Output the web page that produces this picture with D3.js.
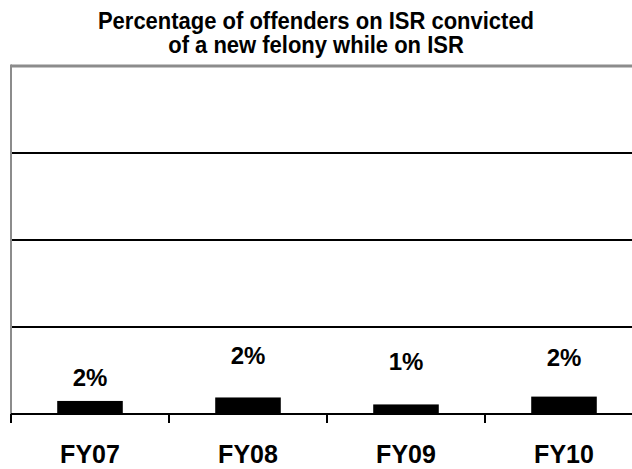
<!DOCTYPE html>
<html>
<head>
<meta charset="utf-8">
<script src="https://cdn.jsdelivr.net/npm/d3@7"></script>
<style>
  body { margin: 0; background: #fff; }
  text { font-family: "Liberation Sans", Arial, sans-serif; font-weight: bold; fill: #000; }
</style>
</head>
<body>
<svg id="chart" width="632" height="469"></svg>
<script>
/** Chart data */
var years = ['FY07', 'FY08', 'FY09', 'FY10'];
var felonyPct = [1.5, 1.9, 1.1, 2.0];
var yTicks = [0, 10, 20, 30, 40];

/** Label lift above each bar (px) - labels were hand placed in the original */
var labelLift = [15, 33, 34, 31];

var plot = { left: 11, top: 66, bottom: 414, right: 643 };

var svg = d3.select('#chart');

// Title (slightly tall glyphs, like the original)
var title = svg.append('g')
    .attr('transform', 'translate(316,0) scale(1,1.1)');
title.append('text')
    .attr('x', 0).attr('y', 26)
    .attr('text-anchor', 'middle')
    .style('font-size', '22px')
    .text('Percentage of offenders on ISR convicted');
title.append('text')
    .attr('x', 0).attr('y', 48.5)
    .attr('text-anchor', 'middle')
    .style('font-size', '22px')
    .text('of a new felony while on ISR');

// Scales
var y = d3.scaleLinear()
    .domain([0, d3.max(yTicks)])
    .range([plot.bottom, plot.top]);

var x = d3.scaleBand()
    .domain(years)
    .range([plot.left, plot.right])
    .padding(0);

var barW = x.bandwidth() * 0.415;

// Gridlines (inner ones black)
svg.append('g').selectAll('line')
    .data(yTicks.slice(1, -1))
    .enter().append('line')
    .attr('x1', plot.left).attr('x2', 632)
    .attr('y1', function(d){ return Math.round(y(d)); })
    .attr('y2', function(d){ return Math.round(y(d)); })
    .attr('stroke', '#000')
    .attr('stroke-width', 2);

// Plot area border (top + left, grey)
svg.append('line')
    .attr('x1', plot.left).attr('x2', 632)
    .attr('y1', y(40)).attr('y2', y(40))
    .attr('stroke', '#8c8c8c').attr('stroke-width', 3);
svg.append('line')
    .attr('x1', plot.left).attr('x2', plot.left)
    .attr('y1', y(40) - 1.5).attr('y2', plot.bottom)
    .attr('stroke', '#8c8c8c').attr('stroke-width', 2);

// Bars
svg.append('g').selectAll('rect')
    .data(felonyPct)
    .enter().append('rect')
    .attr('x', function(d, i){ return x(years[i]) + (x.bandwidth() - barW) / 2; })
    .attr('y', function(d){ return y(d); })
    .attr('width', barW)
    .attr('height', function(d){ return plot.bottom - y(d); })
    .attr('fill', '#000');

// Value labels
svg.append('g').selectAll('text')
    .data(felonyPct)
    .enter().append('text')
    .attr('x', function(d, i){ return x(years[i]) + x.bandwidth() / 2; })
    .attr('y', function(d, i){ return y(d) - labelLift[i]; })
    .attr('text-anchor', 'middle')
    .style('font-size', '24px')
    .text(function(d){ return Math.round(d) + '%'; });

// X axis
var xAxis = d3.axisBottom(x)
    .tickSize(0)
    .tickPadding(0)
    .tickFormat('');
var gx = svg.append('g')
    .attr('transform', 'translate(0,' + plot.bottom + ')')
    .call(xAxis);
gx.select('.domain').remove();

gx.append('line')
    .attr('x1', plot.left).attr('x2', 632)
    .attr('y1', 0).attr('y2', 0)
    .attr('stroke', '#000').attr('stroke-width', 2);

// tick marks on band boundaries
gx.selectAll('.bound')
    .data(years)
    .enter().append('line')
    .attr('class', 'bound')
    .attr('x1', function(d){ return x(d); })
    .attr('x2', function(d){ return x(d); })
    .attr('y1', 0).attr('y2', 9)
    .attr('stroke', '#000').attr('stroke-width', 2);

gx.selectAll('.cat')
    .data(years)
    .enter().append('text')
    .attr('class', 'cat')
    .attr('x', function(d){ return x(d) + x.bandwidth() / 2; })
    .attr('y', 49)
    .attr('text-anchor', 'middle')
    .style('font-size', '25px')
    .text(function(d){ return d; });
</script>
</body>
</html>
